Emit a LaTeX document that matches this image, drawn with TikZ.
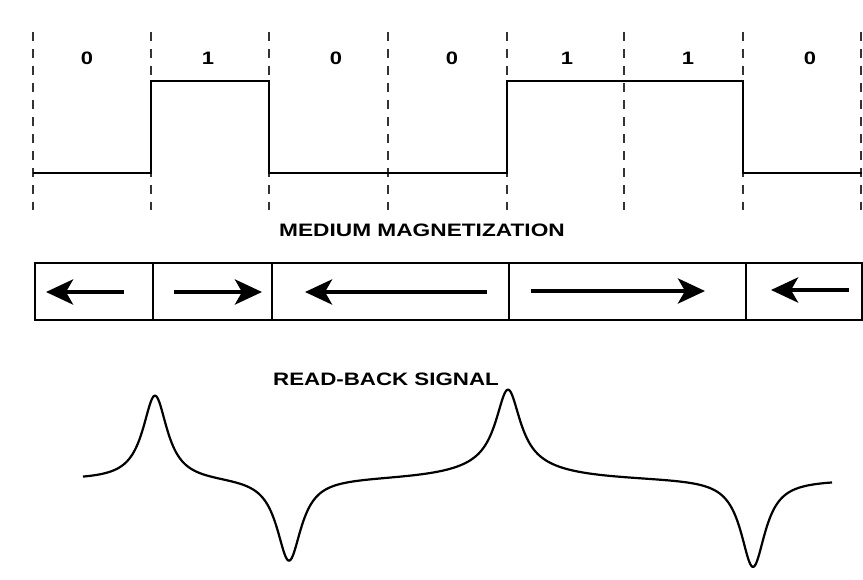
\documentclass[tikz,border=0pt]{standalone}
\usepackage{fontspec}
\usepackage{graphicx}
\setmainfont{Liberation Sans}
\usetikzlibrary{arrows.meta}
\begin{document}
\begin{tikzpicture}[x=1pt,y=-1pt,
  gridline/.style={line width=2.2pt, black!80, dash pattern=on 9pt off 8pt},
  wave/.style={line width=2.8pt, line join=miter},
  cell/.style={draw, line width=2.2pt, rectangle, inner sep=0pt, outer sep=0pt, minimum height=57pt},
  mag/.style={line width=4.5pt, -{Stealth[length=27pt,width=25pt,inset=7pt]}},
  bit/.style={font=\fontsize{18}{20}\selectfont\bfseries, inner sep=0pt},
  title/.style={font=\fontsize{18}{20}\selectfont\bfseries, inner sep=0pt},
  signal/.style={line width=2.2pt, line join=round},
  declare function={
    L(\p,\q)=1/(1+(\p/\q)*(\p/\q));
    sig(\p)=480-85*L(\p-155,15)+83*L(\p-289,15)-91*(0.85*L(\p-508,15)+0.15*L(\p-508,60))+88*L(\p-753,15);
  }]
\fill[white] (0,0) rectangle (863,579);
\useasboundingbox (0,0) rectangle (863,579);

% bit cell boundaries
\foreach \xx/\nm in {33/g0,151/g1,269/g2,388/g3,507/g4,624/g5,743/g6,861/g7}{
  \coordinate (\nm t) at (\xx,32);
  \coordinate (\nm b) at (\xx,210);
  \draw[gridline] (\nm t) -- (\nm b);
}

% bit labels
\foreach \xx/\bb/\nm in {87/0/b1,208/1/b2,336/0/b3,452/0/b4,567/1/b5,688/1/b6,810/0/b7}{
  \node[bit] (\nm) at (\xx,58) {\scalebox{1.22}[1]{\bb}};
}

% write current waveform
\coordinate (w0) at (33,173);
\coordinate (w1) at (151,173);
\coordinate (w2) at (151,81);
\coordinate (w3) at (269,81);
\coordinate (w4) at (269,173);
\coordinate (w5) at (507,173);
\coordinate (w6) at (507,81);
\coordinate (w7) at (743,81);
\coordinate (w8) at (743,173);
\coordinate (w9) at (862,173);
\draw[wave] (w0) -- (w1) -- (w2) -- (w3) -- (w4) -- (w5) -- (w6) -- (w7) -- (w8) -- (w9);

% medium magnetization
\node[title] (mmtitle) at (422,230) {\scalebox{1.26}[1]{MEDIUM MAGNETIZATION}};
\node[cell, minimum width=118pt] (c1) at (94,291.5) {};
\node[cell, minimum width=119pt] (c2) at (212.5,291.5) {};
\node[cell, minimum width=237pt] (c3) at (390.5,291.5) {};
\node[cell, minimum width=237pt] (c4) at (627.5,291.5) {};
\node[cell, minimum width=116pt] (c5) at (804,291.5) {};

\coordinate (a1s) at (124,292); \coordinate (a1e) at (46,292);
\coordinate (a2s) at (174,292); \coordinate (a2e) at (262,292);
\coordinate (a3s) at (487,292); \coordinate (a3e) at (305,292);
\coordinate (a4s) at (531,291); \coordinate (a4e) at (705,291);
\coordinate (a5s) at (849,290); \coordinate (a5e) at (771,290);
\draw[mag] (a1s) -- (a1e);
\draw[mag] (a2s) -- (a2e);
\draw[mag] (a3s) -- (a3e);
\draw[mag] (a4s) -- (a4e);
\draw[mag] (a5s) -- (a5e);

% read-back signal
\node[title] (rbtitle) at (386,379) {\scalebox{1.24}[1]{READ-BACK SIGNAL}};
\draw[signal] plot[domain=83:832, samples=600, variable=\t] (\t, {sig(\t)});
\end{tikzpicture}
\end{document}
